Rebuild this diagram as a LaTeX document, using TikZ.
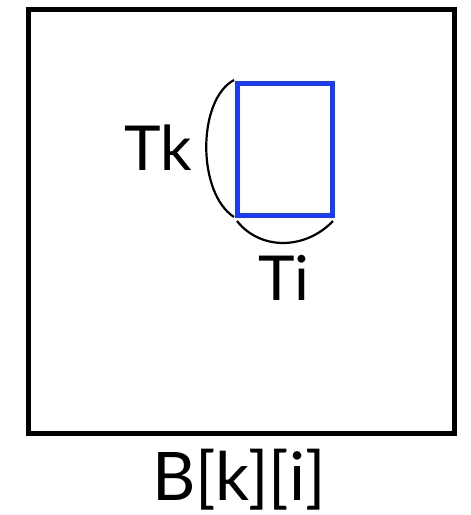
\documentclass[tikz,border=0pt]{standalone}
\usepackage{fontspec}
\setmainfont{Lato}
\definecolor{tileblue}{RGB}{25,60,250}
\begin{document}
\begin{tikzpicture}[x=1pt,y=-1pt,
  frame/.style={draw=black,line width=4.5pt,inner sep=0pt,minimum width=426pt,minimum height=424pt},
  tile/.style={draw=tileblue,line width=4.5pt,inner sep=0pt,minimum width=95pt,minimum height=132pt},
  brace/.style={draw=black,line width=2.2pt},
  lbl/.style={inner sep=0pt,font=\fontsize{62}{70}\selectfont,anchor=base}]
\useasboundingbox (0,0) rectangle (471,515);
\node[frame] (outer) at (241.5,221.5) {};
\node[tile] (blk) at (285,149.5) {};
\coordinate (lt) at (234,80);
\coordinate (lb) at (234,217);
\coordinate (bl) at (237,221);
\coordinate (br) at (333,221);
\draw[brace] (lt) .. controls (197,100) and (197,193) .. (lb);
\draw[brace] (bl) .. controls (260,250.3) and (305,250.3) .. (br);
\node[lbl] (tk) at (158,170) {Tk};
\node[lbl] (ti) at (284,300) {Ti};
\node[lbl,font=\fontsize{67}{74}\selectfont] (bki) at (239,500) {B[k][i]};
\end{tikzpicture}
\end{document}
